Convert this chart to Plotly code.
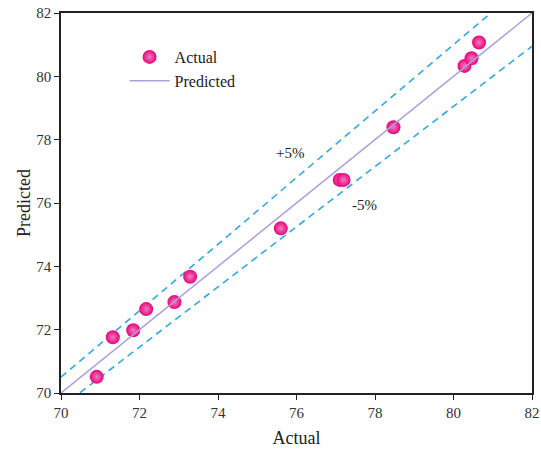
import plotly.graph_objects as go

# Data
actual_x = [70.91, 71.32, 71.84, 72.17, 72.89, 73.29, 75.60, 77.10, 77.20, 78.47, 80.28, 80.46, 80.65]
actual_y = [70.51, 71.76, 71.98, 72.65, 72.87, 73.67, 75.20, 76.73, 76.73, 78.39, 80.33, 80.57, 81.07]

ref_x = [70, 82]
ideal_y = [70, 82]
upper_y = [70.5, 83.1]
lower_y = [69.55, 80.95]

ticks = [70, 72, 74, 76, 78, 80, 82]

font = "Liberation Serif"

fig = go.Figure()
fig.add_trace(go.Scatter(x=ref_x, y=upper_y, mode="lines", showlegend=False,
                         line=dict(color="#35a9dc", width=1.6, dash="7px,5px"), hoverinfo="skip"))
fig.add_trace(go.Scatter(x=ref_x, y=lower_y, mode="lines", showlegend=False,
                         line=dict(color="#35a9dc", width=1.6, dash="7px,5px"), hoverinfo="skip"))
fig.add_trace(go.Scatter(x=actual_x, y=actual_y, mode="markers", name="Actual",
                         marker=dict(size=14, color="#e5047c",
                                     gradient=dict(type="radial", color="#f47bbb"),
                                     line=dict(width=0))))
fig.add_trace(go.Scatter(x=ref_x, y=ideal_y, mode="lines", name="Predicted",
                         line=dict(color="#ad9fdc", width=1.5)))

fig.add_annotation(x=75.83, y=77.58, text="+5%", showarrow=False,
                   font=dict(family=font, size=15, color="#222"))
fig.add_annotation(x=77.72, y=75.94, text="-5%", showarrow=False,
                   font=dict(family=font, size=15, color="#222"))

axis_common = dict(range=[70, 82], tickvals=ticks, ticks="outside", ticklen=5, tickwidth=1.2,
                   tickcolor="#222", showline=True, linecolor="#222", linewidth=1.5, mirror=True,
                   showgrid=False, zeroline=False, automargin=False,
                   tickfont=dict(family=font, size=15, color="#333"))

fig.update_layout(
    width=541, height=449,
    margin=dict(l=61, r=9, t=13, b=56),
    paper_bgcolor="white", plot_bgcolor="white",
    font=dict(family=font, color="#222"),
    xaxis=dict(title=dict(text="Actual", font=dict(family=font, size=18, color="#222"), standoff=12),
               **axis_common),
    yaxis=dict(title=dict(text="Predicted", font=dict(family=font, size=18, color="#222"), standoff=1),
               **axis_common),
    legend=dict(x=0.135, y=0.929, xanchor="left", yanchor="top", bgcolor="rgba(0,0,0,0)",
                font=dict(family=font, size=16, color="#222"), tracegroupgap=0, itemwidth=40),
    showlegend=True,
)

fig.write_html("out.html", config={"displayModeBar": False},
               post_script="document.body.style.margin='0';document.body.style.overflow='hidden';")
